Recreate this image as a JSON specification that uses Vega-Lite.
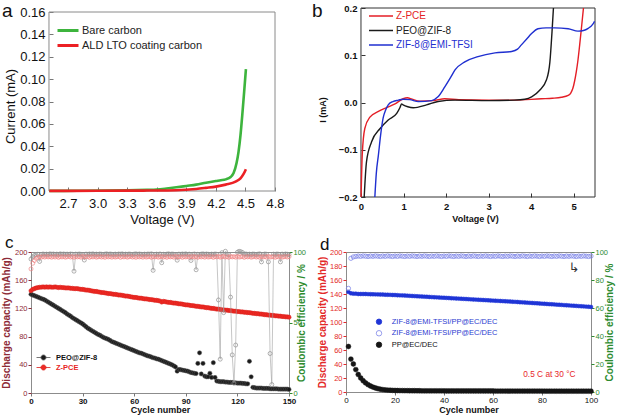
{
"$schema": "https://vega.github.io/schema/vega-lite/v6.json",
"autosize": {"type": "none"},
"padding": {"left": 31, "top": 8, "right": 593, "bottom": 408},
"background": "white",
"columns": 2,
"bounds": "flush",
"spacing": {"row": 55, "column": 57},
"resolve": {"scale": {"color": "independent", "fill": "independent", "stroke": "independent", "size": "independent"}, "legend": {"color": "independent", "fill": "independent", "stroke": "independent", "size": "independent"}},
"config": {
 "font": "Liberation Sans",
 "view": {"stroke": "#8c8c8c", "strokeWidth": 1},
 "axis": {"grid": false, "labelFont": "Liberation Sans", "titleFont": "Liberation Sans", "labelFlush": false, "labelOverlap": false},
 "legend": {"labelFont": "Liberation Sans", "padding": 0},
 "title": {"font": "Liberation Sans"}
},
"concat": [
 {
  "width": 244, "height": 183,
  "view": {"stroke": null},
  "title": {"text": "a", "anchor": "start", "frame": "group", "fontSize": 19, "fontWeight": "normal", "baseline": "alphabetic", "offset": 0, "dx": -29, "dy": 30, "color": "#111"},
  "layer": [
   {
    "data": {"values": [{}]},
    "mark": {"type": "rect", "fill": "transparent", "stroke": "#8a8a8a", "strokeWidth": 1},
    "encoding": {
     "x": {"datum": 2.507, "type": "quantitative", "scale": {"domain": [2.3246, 4.8], "nice": false, "zero": false}, "axis": {"title": "Voltage (V)", "tickCount": 30}},
     "x2": {"datum": 4.8},
     "y": {"datum": 0, "type": "quantitative", "scale": {"domain": [0, 0.16358], "nice": false}, "axis": {"title": "Current (mA)", "tickCount": 30}},
     "y2": {"datum": 0.16}
    }
   },
   {
    "data": {"values": [
     {"s":"Bare carbon","v":2.51,"i":0.0001},{"s":"Bare carbon","v":2.8,"i":0.0002},{"s":"Bare carbon","v":3.1,"i":0.0004},{"s":"Bare carbon","v":3.3,"i":0.0006},{"s":"Bare carbon","v":3.5,"i":0.001},{"s":"Bare carbon","v":3.6,"i":0.0013},{"s":"Bare carbon","v":3.7,"i":0.0022},{"s":"Bare carbon","v":3.8,"i":0.0033},{"s":"Bare carbon","v":3.9,"i":0.0045},{"s":"Bare carbon","v":4.0,"i":0.0057},{"s":"Bare carbon","v":4.1,"i":0.0074},{"s":"Bare carbon","v":4.2,"i":0.0089},{"s":"Bare carbon","v":4.25,"i":0.0096},{"s":"Bare carbon","v":4.3,"i":0.0104},{"s":"Bare carbon","v":4.35,"i":0.0125},{"s":"Bare carbon","v":4.38,"i":0.016},{"s":"Bare carbon","v":4.41,"i":0.025},{"s":"Bare carbon","v":4.43,"i":0.035},{"s":"Bare carbon","v":4.45,"i":0.05},{"s":"Bare carbon","v":4.47,"i":0.07},{"s":"Bare carbon","v":4.49,"i":0.092},{"s":"Bare carbon","v":4.505,"i":0.109},
     {"s":"ALD LTO coating carbon","v":2.51,"i":0.0001},{"s":"ALD LTO coating carbon","v":3.0,"i":0.0002},{"s":"ALD LTO coating carbon","v":3.5,"i":0.0004},{"s":"ALD LTO coating carbon","v":3.8,"i":0.0007},{"s":"ALD LTO coating carbon","v":4.0,"i":0.0018},{"s":"ALD LTO coating carbon","v":4.1,"i":0.0028},{"s":"ALD LTO coating carbon","v":4.2,"i":0.0039},{"s":"ALD LTO coating carbon","v":4.3,"i":0.0057},{"s":"ALD LTO coating carbon","v":4.4,"i":0.0083},{"s":"ALD LTO coating carbon","v":4.45,"i":0.0113},{"s":"ALD LTO coating carbon","v":4.48,"i":0.015},{"s":"ALD LTO coating carbon","v":4.505,"i":0.0195}
    ]},
    "mark": {"type": "line", "strokeWidth": 2.6, "interpolate": "monotone"},
    "encoding": {
     "x": {"field": "v", "type": "quantitative", "scale": {"domain": [2.3246, 4.8], "nice": false, "zero": false},
      "axis": {"values": [2.7, 3.0, 3.3, 3.6, 3.9, 4.2, 4.5, 4.8], "tickCount": 30, "format": ".1f", "labelOverlap": false, "labelFontSize": 13, "labelColor": "#111", "tickSize": -4, "tickColor": "#777", "labelPadding": 10, "domain": false, "title": "Voltage (V)", "titleFontSize": 13, "titleFontWeight": "normal", "titleColor": "#111", "titlePadding": 3, "titleX": 131}},
     "y": {"field": "i", "type": "quantitative", "scale": {"domain": [0, 0.16358], "nice": false},
      "axis": {"values": [0, 0.02, 0.04, 0.06, 0.08, 0.1, 0.12, 0.14, 0.16], "tickCount": 30, "format": ".2f", "labelOverlap": false, "offset": -18, "labelFontSize": 13, "labelColor": "#111", "tickSize": -4, "tickColor": "#777", "labelPadding": 8, "domain": false, "title": "Current (mA)", "titleFontSize": 13, "titleFontWeight": "normal", "titleColor": "#111", "titlePadding": 2, "titleY": 98}},
     "color": {"field": "s", "type": "nominal", "scale": {"domain": ["Bare carbon", "ALD LTO coating carbon"], "range": ["#3DB43D", "#EC2024"]},
      "legend": {"orient": "none", "legendX": 29.5, "legendY": 15, "title": null, "symbolType": "M-1.75,0H1.75", "symbolSize": 144, "symbolStrokeWidth": 3, "labelFontSize": 11, "labelOffset": 6.5, "rowPadding": 1, "padding": 0, "labelColor": "#222"}}
    }
   }
  ]
 },
 {
  "width": 249, "height": 189,
  "view": {"stroke": null},
  "title": {"text": "b", "anchor": "start", "frame": "group", "fontSize": 19, "fontWeight": "normal", "baseline": "alphabetic", "offset": 0, "dx": -34, "dy": 33, "color": "#111"},
  "layer": [
   {
    "data": {"values": [{}]},
    "mark": {"type": "rect", "fill": "transparent", "stroke": "#333", "strokeWidth": 1},
    "encoding": {
     "x": {"datum": 0, "type": "quantitative", "scale": {"domain": [-0.352, 5.5], "nice": false, "zero": false}, "axis": {"title": "Voltage (V)", "tickCount": 30}},
     "x2": {"datum": 5.5},
     "y": {"datum": -0.2, "type": "quantitative", "scale": {"domain": [-0.2, 0.2], "nice": false}, "axis": {"title": "I (mA)", "tickCount": 30}},
     "y2": {"datum": 0.2}
    }
   },
   {
    "data": {"values": [
     {"s":"Z-PCE","v":0.0,"i":-0.21},{"s":"Z-PCE","v":0.03,"i":-0.11},{"s":"Z-PCE","v":0.09,"i":-0.055},{"s":"Z-PCE","v":0.21,"i":-0.031},{"s":"Z-PCE","v":0.41,"i":-0.019},{"s":"Z-PCE","v":0.6,"i":-0.011},{"s":"Z-PCE","v":0.8,"i":-0.003},{"s":"Z-PCE","v":0.99,"i":0.008},{"s":"Z-PCE","v":1.09,"i":0.01},{"s":"Z-PCE","v":1.2,"i":0.007},{"s":"Z-PCE","v":1.38,"i":0.003},{"s":"Z-PCE","v":1.7,"i":0.004},{"s":"Z-PCE","v":1.97,"i":0.008},{"s":"Z-PCE","v":2.3,"i":0.006},{"s":"Z-PCE","v":3.0,"i":0.005},{"s":"Z-PCE","v":3.6,"i":0.005},{"s":"Z-PCE","v":4.24,"i":0.008},{"s":"Z-PCE","v":4.5,"i":0.009},{"s":"Z-PCE","v":4.71,"i":0.011},{"s":"Z-PCE","v":4.87,"i":0.015},{"s":"Z-PCE","v":4.93,"i":0.02},{"s":"Z-PCE","v":4.98,"i":0.03},{"s":"Z-PCE","v":5.02,"i":0.045},{"s":"Z-PCE","v":5.06,"i":0.065},{"s":"Z-PCE","v":5.1,"i":0.09},{"s":"Z-PCE","v":5.14,"i":0.122},{"s":"Z-PCE","v":5.19,"i":0.165},{"s":"Z-PCE","v":5.24,"i":0.21},
     {"s":"PEO@ZIF-8","v":0.07,"i":-0.21},{"s":"PEO@ZIF-8","v":0.13,"i":-0.125},{"s":"PEO@ZIF-8","v":0.25,"i":-0.083},{"s":"PEO@ZIF-8","v":0.45,"i":-0.055},{"s":"PEO@ZIF-8","v":0.64,"i":-0.037},{"s":"PEO@ZIF-8","v":0.84,"i":-0.023},{"s":"PEO@ZIF-8","v":0.92,"i":-0.01},{"s":"PEO@ZIF-8","v":0.955,"i":-0.003},{"s":"PEO@ZIF-8","v":0.99,"i":-0.005},{"s":"PEO@ZIF-8","v":1.1,"i":-0.009},{"s":"PEO@ZIF-8","v":1.23,"i":-0.011},{"s":"PEO@ZIF-8","v":1.54,"i":-0.005},{"s":"PEO@ZIF-8","v":1.81,"i":0.002},{"s":"PEO@ZIF-8","v":2.21,"i":0.005},{"s":"PEO@ZIF-8","v":3.0,"i":0.004},{"s":"PEO@ZIF-8","v":3.6,"i":0.005},{"s":"PEO@ZIF-8","v":3.85,"i":0.007},{"s":"PEO@ZIF-8","v":4.01,"i":0.012},{"s":"PEO@ZIF-8","v":4.2,"i":0.026},{"s":"PEO@ZIF-8","v":4.36,"i":0.048},{"s":"PEO@ZIF-8","v":4.44,"i":0.086},{"s":"PEO@ZIF-8","v":4.49,"i":0.15},{"s":"PEO@ZIF-8","v":4.53,"i":0.21},
     {"s":"ZIF-8@EMI-TFSI","v":0.32,"i":-0.21},{"s":"ZIF-8@EMI-TFSI","v":0.36,"i":-0.15},{"s":"ZIF-8@EMI-TFSI","v":0.41,"i":-0.111},{"s":"ZIF-8@EMI-TFSI","v":0.46,"i":-0.07},{"s":"ZIF-8@EMI-TFSI","v":0.52,"i":-0.033},{"s":"ZIF-8@EMI-TFSI","v":0.58,"i":-0.016},{"s":"ZIF-8@EMI-TFSI","v":0.64,"i":-0.005},{"s":"ZIF-8@EMI-TFSI","v":0.75,"i":0.002},{"s":"ZIF-8@EMI-TFSI","v":0.88,"i":0.005},{"s":"ZIF-8@EMI-TFSI","v":0.99,"i":0.007},{"s":"ZIF-8@EMI-TFSI","v":1.15,"i":0.006},{"s":"ZIF-8@EMI-TFSI","v":1.35,"i":0.002},{"s":"ZIF-8@EMI-TFSI","v":1.66,"i":0.004},{"s":"ZIF-8@EMI-TFSI","v":1.81,"i":0.012},{"s":"ZIF-8@EMI-TFSI","v":1.97,"i":0.033},{"s":"ZIF-8@EMI-TFSI","v":2.1,"i":0.052},{"s":"ZIF-8@EMI-TFSI","v":2.21,"i":0.069},{"s":"ZIF-8@EMI-TFSI","v":2.44,"i":0.086},{"s":"ZIF-8@EMI-TFSI","v":2.75,"i":0.097},{"s":"ZIF-8@EMI-TFSI","v":3.15,"i":0.105},{"s":"ZIF-8@EMI-TFSI","v":3.54,"i":0.108},{"s":"ZIF-8@EMI-TFSI","v":3.68,"i":0.113},{"s":"ZIF-8@EMI-TFSI","v":3.77,"i":0.122},{"s":"ZIF-8@EMI-TFSI","v":3.9,"i":0.135},{"s":"ZIF-8@EMI-TFSI","v":4.01,"i":0.146},{"s":"ZIF-8@EMI-TFSI","v":4.16,"i":0.156},{"s":"ZIF-8@EMI-TFSI","v":4.35,"i":0.158},{"s":"ZIF-8@EMI-TFSI","v":4.55,"i":0.158},{"s":"ZIF-8@EMI-TFSI","v":4.87,"i":0.156},{"s":"ZIF-8@EMI-TFSI","v":5.1,"i":0.151},{"s":"ZIF-8@EMI-TFSI","v":5.25,"i":0.153},{"s":"ZIF-8@EMI-TFSI","v":5.34,"i":0.157},{"s":"ZIF-8@EMI-TFSI","v":5.45,"i":0.166},{"s":"ZIF-8@EMI-TFSI","v":5.49,"i":0.172}
    ]},
    "mark": {"type": "line", "strokeWidth": 1.4, "interpolate": "monotone", "clip": true},
    "encoding": {
     "x": {"field": "v", "type": "quantitative", "scale": {"domain": [-0.352, 5.5], "nice": false, "zero": false},
      "axis": {"values": [0, 1, 2, 3, 4, 5], "tickCount": 30, "format": "d", "labelOverlap": false, "labelFontSize": 9.5, "labelFontWeight": "bold", "labelColor": "#111", "tickSize": -4, "tickColor": "#333", "labelPadding": 8, "domain": false, "title": "Voltage (V)", "titleFontSize": 9, "titleFontWeight": "bold", "titleColor": "#111", "titlePadding": 4, "titleX": 129}},
     "y": {"field": "i", "type": "quantitative", "scale": {"domain": [-0.2, 0.2], "nice": false},
      "axis": {"values": [-0.2, -0.1, 0, 0.1, 0.2], "tickCount": 30, "format": ".1f", "labelOverlap": false, "offset": -15, "labelFontSize": 9.5, "labelFontWeight": "bold", "labelColor": "#111", "tickSize": -4, "tickColor": "#333", "labelPadding": 8, "domain": false, "title": "I (mA)", "titleFontSize": 9, "titleFontWeight": "bold", "titleColor": "#111", "titlePadding": 11, "titleY": 101.5}},
     "color": {"field": "s", "type": "nominal", "scale": {"domain": ["Z-PCE", "PEO@ZIF-8", "ZIF-8@EMI-TFSI"], "range": ["#E41E26", "#1A1A1A", "#1F2FD0"]},
      "legend": {"orient": "none", "legendX": 28, "legendY": 1, "title": null, "symbolType": "M-2,0H2", "symbolSize": 144, "symbolStrokeWidth": 1.5, "labelFontSize": 10, "labelOffset": 8, "rowPadding": 2.5, "padding": 0,
       "labelColor": {"expr": "datum.value == 'Z-PCE' ? '#E41E26' : datum.value == 'ZIF-8@EMI-TFSI' ? '#1F2FD0' : '#222222'"}}}
    }
   }
  ]
 },
 {
  "width": 258, "height": 141,
  "title": {"text": "c", "anchor": "start", "frame": "group", "fontSize": 17, "fontWeight": "normal", "baseline": "alphabetic", "offset": 0, "dx": -26, "dy": 17, "color": "#111"},
  "data": {"values": [
{"n":0,"zp":145,"pz":140,"zc":88,"pc":95},{"n":1,"zp":147,"pz":139,"zc":92,"pc":96.5},{"n":2,"zp":148,"pz":138,"zc":94,"pc":97.5},{"n":3,"zp":149,"pz":137,"zc":95.5,"pc":98},{"n":4,"zp":149.5,"pz":136,"zc":96.2,"pc":98.4},{"n":5,"zp":150,"pz":135,"zc":96.6,"pc":93.3},{"n":6,"zp":150,"pz":134,"zc":96.3,"pc":98.2},{"n":7,"zp":150.5,"pz":133,"zc":96.8,"pc":98.6},{"n":8,"zp":150,"pz":132,"zc":96.4,"pc":98.3},{"n":9,"zp":150.5,"pz":130.5,"zc":96.9,"pc":98.5},
{"n":10,"zp":150,"pz":129,"zc":96.5,"pc":98.2},{"n":11,"zp":150.5,"pz":127.5,"zc":96.7,"pc":98.7},{"n":12,"zp":150,"pz":126,"zc":96.3,"pc":98.4},{"n":13,"zp":150,"pz":124.5,"zc":96.8,"pc":98.6},{"n":14,"zp":150.5,"pz":123,"zc":96.4,"pc":98.3},{"n":15,"zp":150,"pz":121.5,"zc":96.9,"pc":98.5},{"n":16,"zp":149.5,"pz":120,"zc":96.2,"pc":98.2},{"n":17,"zp":150,"pz":118.5,"zc":96.7,"pc":98.7},{"n":18,"zp":149.5,"pz":117,"zc":96.5,"pc":98.4},{"n":19,"zp":149.5,"pz":115.5,"zc":96.8,"pc":98.6},
{"n":20,"zp":149,"pz":114,"zc":96.3,"pc":98.3},{"n":21,"zp":149,"pz":112,"zc":96.6,"pc":98.5},{"n":22,"zp":149,"pz":110.5,"zc":96.9,"pc":98.2},{"n":23,"zp":148.5,"pz":109,"zc":96.4,"pc":98.6},{"n":24,"zp":148.5,"pz":107,"zc":96.7,"pc":98.4},{"n":25,"zp":148,"pz":105.5,"zc":96.2,"pc":86.4},{"n":26,"zp":148,"pz":104,"zc":96.8,"pc":98.5},{"n":27,"zp":148,"pz":102.5,"zc":96.5,"pc":98.3},{"n":28,"zp":147.5,"pz":101,"zc":96.7,"pc":98.6},{"n":29,"zp":147,"pz":99.5,"zc":96.3,"pc":98.4},
{"n":30,"zp":147,"pz":98,"zc":96.9,"pc":98.2},{"n":31,"zp":146.5,"pz":96,"zc":96.4,"pc":94.3},{"n":32,"zp":146,"pz":94,"zc":96.6,"pc":98.5},{"n":33,"zp":146,"pz":92,"zc":96.8,"pc":98.3},{"n":34,"zp":145.5,"pz":90.5,"zc":96.2,"pc":98.6},{"n":35,"zp":145,"pz":89,"zc":96.7,"pc":98.4},{"n":36,"zp":144.5,"pz":87.5,"zc":96.5,"pc":98.7},{"n":37,"zp":144,"pz":86,"zc":96.9,"pc":98.2},{"n":38,"zp":144,"pz":84.5,"zc":96.3,"pc":98.5},{"n":39,"zp":143.5,"pz":83,"zc":96.6,"pc":98.3},
{"n":40,"zp":143,"pz":82,"zc":96.8,"pc":98.6},{"n":41,"zp":142.5,"pz":80.5,"zc":96.4,"pc":98.4},{"n":42,"zp":142.5,"pz":79,"zc":96.7,"pc":98.2},{"n":43,"zp":142,"pz":78,"zc":96.2,"pc":98.5},{"n":44,"zp":141.5,"pz":77,"zc":96.9,"pc":98.7},{"n":45,"zp":141,"pz":76,"zc":96.5,"pc":98.3},{"n":46,"zp":141,"pz":74.5,"zc":96.7,"pc":98.6},{"n":47,"zp":140.5,"pz":73,"zc":96.3,"pc":98.4},{"n":48,"zp":140,"pz":72,"zc":96.8,"pc":98.2},{"n":49,"zp":140,"pz":71,"zc":96.4,"pc":98.5},
{"n":50,"zp":139.5,"pz":70,"zc":96.6,"pc":98.3},{"n":51,"zp":139,"pz":69,"zc":96.9,"pc":98.6},{"n":52,"zp":139,"pz":68,"zc":96.2,"pc":98.4},{"n":53,"zp":138.5,"pz":67,"zc":96.7,"pc":98.7},{"n":54,"zp":138,"pz":66,"zc":96.5,"pc":98.2},{"n":55,"zp":137.5,"pz":65,"zc":96.8,"pc":98.5},{"n":56,"zp":137.5,"pz":64,"zc":96.3,"pc":98.3},{"n":57,"zp":137,"pz":63,"zc":96.6,"pc":98.6},{"n":58,"zp":136.5,"pz":62,"zc":96.9,"pc":98.4},{"n":59,"zp":136,"pz":61,"zc":96.4,"pc":98.2},
{"n":60,"zp":135.5,"pz":60,"zc":96.7,"pc":98.5},{"n":61,"zp":135.5,"pz":59,"zc":96.2,"pc":98.7},{"n":62,"zp":135,"pz":58,"zc":96.8,"pc":98.3},{"n":63,"zp":134.5,"pz":57,"zc":96.5,"pc":98.6},{"n":64,"zp":134.5,"pz":56.5,"zc":96.7,"pc":98.4},{"n":65,"zp":134,"pz":55.5,"zc":96.3,"pc":98.2},{"n":66,"zp":133.5,"pz":54.5,"zc":96.9,"pc":98.5},{"n":67,"zp":133.5,"pz":53.5,"zc":96.4,"pc":98.3},{"n":68,"zp":133,"pz":52.5,"zc":96.6,"pc":98.6},{"n":69,"zp":132.5,"pz":52,"zc":96.8,"pc":98.4},
{"n":70,"zp":132.5,"pz":51,"zc":96.2,"pc":98.7},{"n":71,"zp":132,"pz":50,"zc":96.7,"pc":87},{"n":72,"zp":131.5,"pz":49.5,"zc":96.5,"pc":98.2},{"n":73,"zp":131.5,"pz":48.5,"zc":96.8,"pc":98.5},{"n":74,"zp":131,"pz":48,"zc":96.3,"pc":98.3},{"n":75,"zp":130.5,"pz":47,"zc":96.6,"pc":98.6},{"n":76,"zp":129,"pz":46,"zc":96.9,"pc":92.4},{"n":77,"zp":130,"pz":45,"zc":96.4,"pc":98.4},{"n":78,"zp":129.5,"pz":44,"zc":96.7,"pc":98.2},{"n":79,"zp":129,"pz":43,"zc":96.2,"pc":98.5},
{"n":80,"zp":128.5,"pz":42,"zc":96.8,"pc":98.7},{"n":81,"zp":128.5,"pz":41,"zc":96.5,"pc":98.3},{"n":82,"zp":128,"pz":40,"zc":96.7,"pc":98.6},{"n":83,"zp":127.5,"pz":38.5,"zc":96.3,"pc":98.4},{"n":84,"zp":127.5,"pz":37,"zc":96.9,"pc":98.2},{"n":85,"zp":127,"pz":31,"zc":96.4,"pc":94.2},{"n":86,"zp":126.5,"pz":33.5,"zc":96.6,"pc":98.5},{"n":87,"zp":126.5,"pz":33,"zc":96.8,"pc":98.3},{"n":88,"zp":126,"pz":32.5,"zc":96.2,"pc":98.6},{"n":89,"zp":125.5,"pz":32,"zc":96.7,"pc":98.4},
{"n":90,"zp":125,"pz":31.5,"zc":96.5,"pc":98.7},{"n":91,"zp":125,"pz":31,"zc":96.8,"pc":98.2},{"n":92,"zp":124.5,"pz":30,"zc":96.3,"pc":98.5},{"n":93,"zp":124,"pz":29,"zc":96.6,"pc":94},{"n":94,"zp":124,"pz":28.5,"zc":96.9,"pc":98.3},{"n":95,"zp":123.5,"pz":28,"zc":96.4,"pc":98.6},{"n":96,"zp":123,"pz":27.5,"zc":96.7,"pc":87.4},{"n":97,"zp":123,"pz":42,"zc":96.2,"pc":98.4},{"n":98,"zp":122.5,"pz":57,"zc":96.8,"pc":98.2},{"n":99,"zp":122,"pz":27,"zc":96.5,"pc":98.5},
{"n":100,"zp":122,"pz":42,"zc":96.7,"pc":98.7},{"n":101,"zp":121.5,"pz":24,"zc":96.3,"pc":98.3},{"n":102,"zp":121,"pz":23,"zc":96.9,"pc":98.6},{"n":103,"zp":121,"pz":23,"zc":96.4,"pc":98.4},{"n":104,"zp":120.5,"pz":28,"zc":96.6,"pc":98.2},{"n":105,"zp":120,"pz":22,"zc":96.8,"pc":98.5},{"n":106,"zp":120,"pz":43,"zc":96.2,"pc":98.3},{"n":107,"zp":119.5,"pz":22,"zc":96.7,"pc":98.6},{"n":108,"zp":119,"pz":17,"zc":96.5,"pc":98.4},{"n":109,"zp":119,"pz":16.5,"zc":96.8,"pc":66},
{"n":110,"zp":118.5,"pz":16,"zc":96.3,"pc":24},{"n":111,"zp":118,"pz":16,"zc":96.6,"pc":99.5},{"n":112,"zp":118,"pz":16,"zc":96.9,"pc":57},{"n":113,"zp":117.5,"pz":15.5,"zc":96.4,"pc":100.5},{"n":114,"zp":117.5,"pz":15.5,"zc":96.7,"pc":98.5},{"n":115,"zp":117,"pz":15,"zc":96.2,"pc":98.2},{"n":116,"zp":117,"pz":15,"zc":96.8,"pc":68},{"n":117,"zp":116.5,"pz":15,"zc":96.5,"pc":27},{"n":118,"zp":116,"pz":14.5,"zc":96.7,"pc":7},{"n":119,"zp":116,"pz":14.5,"zc":96.3,"pc":34},
{"n":120,"zp":115.5,"pz":14,"zc":96.9,"pc":99.8},{"n":121,"zp":115.5,"pz":14,"zc":96.4,"pc":100.5},{"n":122,"zp":115,"pz":14,"zc":96.6,"pc":100.2},{"n":123,"zp":115,"pz":13.5,"zc":96.8,"pc":99.6},{"n":124,"zp":114.5,"pz":13.5,"zc":96.2,"pc":98.4},{"n":125,"zp":114.5,"pz":13,"zc":96.7,"pc":98.6},{"n":126,"zp":114,"pz":13,"zc":96.5,"pc":98.3},{"n":127,"zp":114,"pz":45,"zc":96.8,"pc":98.5},{"n":128,"zp":113.5,"pz":23,"zc":96.3,"pc":98.2},{"n":129,"zp":113,"pz":8,"zc":96.6,"pc":98.6},
{"n":130,"zp":113,"pz":7.5,"zc":96.9,"pc":98.4},{"n":131,"zp":112.5,"pz":7,"zc":96.4,"pc":98.2},{"n":132,"zp":112.5,"pz":7,"zc":96.7,"pc":98.5},{"n":133,"zp":112,"pz":7,"zc":96.2,"pc":98.7},{"n":134,"zp":112,"pz":7,"zc":96.8,"pc":93},{"n":135,"zp":111.5,"pz":6.5,"zc":96.5,"pc":98.3},{"n":136,"zp":111,"pz":6.5,"zc":96.7,"pc":98.6},{"n":137,"zp":111,"pz":6.5,"zc":96.3,"pc":98.4},{"n":138,"zp":110.5,"pz":6.5,"zc":96.9,"pc":93},{"n":139,"zp":110.5,"pz":6,"zc":96.4,"pc":28},
{"n":140,"zp":110,"pz":6,"zc":96.6,"pc":6},{"n":141,"zp":110,"pz":6,"zc":96.8,"pc":98.5},{"n":142,"zp":109.5,"pz":6,"zc":96.2,"pc":98.3},{"n":143,"zp":109.5,"pz":6,"zc":96.7,"pc":98.6},{"n":144,"zp":109,"pz":5.5,"zc":96.5,"pc":98.4},{"n":145,"zp":109,"pz":5.5,"zc":96.8,"pc":93},{"n":146,"zp":108.5,"pz":5.5,"zc":96.3,"pc":98.5},{"n":147,"zp":108.5,"pz":5.5,"zc":96.6,"pc":98.3},{"n":148,"zp":108,"pz":5.5,"zc":96.9,"pc":98.6},{"n":149,"zp":108,"pz":5.5,"zc":96.4,"pc":98.4},
{"n":150,"zp":107.5,"pz":5,"zc":96.7,"pc":98.2}
  ]},
  "layer": [
   {
    "transform": [{"fold": ["pz", "zp"], "as": ["k", "cap"]}],
    "mark": {"type": "point", "filled": true, "size": 18, "opacity": 1, "strokeWidth": 0.5},
    "encoding": {
     "x": {"field": "n", "type": "quantitative", "scale": {"domain": [0, 150], "nice": false},
      "axis": {"values": [0, 30, 60, 90, 120, 150], "tickCount": 30, "labelOverlap": false, "labelFontSize": 8, "labelFontWeight": "bold", "labelColor": "#111", "tickSize": 3, "tickColor": "#777", "labelPadding": 1, "domain": false, "title": "Cycle number", "titleFontSize": 9, "titleFontWeight": "bold", "titleColor": "#111", "titlePadding": 0}},
     "y": {"field": "cap", "type": "quantitative", "scale": {"domain": [0, 200], "nice": false},
      "axis": {"orient": "left", "values": [0, 40, 80, 120, 160, 200], "tickCount": 30, "labelOverlap": false, "labelFontSize": 7.5, "labelColor": "#8E2B37", "tickColor": "#8E2B37", "tickSize": 3, "labelPadding": 1, "domain": false, "title": "Discharge capacity (mAh/g)", "titleColor": "#8E2B37", "titleFontSize": 10, "titleFontWeight": "bold", "titlePadding": 3}},
     "fill": {"field": "k", "type": "nominal", "scale": {"domain": ["pz", "zp"], "range": ["#1a1a1a", "#EE2A24"]},
      "legend": {"orient": "none", "legendX": 7, "legendY": 100, "title": null, "symbolType": "M-1.4,0H-0.5M0.5,0H1.4M0.5,0A0.5,0.5,0,1,1,-0.5,0A0.5,0.5,0,1,1,0.5,0Z", "symbolSize": 100, "symbolStrokeWidth": 0.8, "labelFontSize": 7.5, "labelFontWeight": "bold", "labelOffset": 7, "rowPadding": -1, "padding": 0,
       "labelExpr": "datum.label == 'pz' ? 'PEO@ZIF-8' : 'Z-PCE'",
       "labelColor": {"expr": "datum.value == 'zp' ? '#E8261F' : '#111111'"}}},
     "stroke": {"field": "k", "type": "nominal", "scale": {"domain": ["pz", "zp"], "range": ["#555555", "#D81E1A"]},
      "legend": {"orient": "none", "legendX": 7, "legendY": 100, "title": null, "symbolType": "M-1.4,0H-0.5M0.5,0H1.4M0.5,0A0.5,0.5,0,1,1,-0.5,0A0.5,0.5,0,1,1,0.5,0Z", "symbolSize": 100, "symbolStrokeWidth": 0.8, "labelFontSize": 7.5, "labelFontWeight": "bold", "labelOffset": 7, "rowPadding": -1, "padding": 0,
       "labelExpr": "datum.label == 'pz' ? 'PEO@ZIF-8' : 'Z-PCE'",
       "labelColor": {"expr": "datum.value == 'zp' ? '#E8261F' : '#111111'"}}}
    }
   },
   {
    "layer": [
     {
      "mark": {"type": "line", "color": "#a0a0a0", "strokeWidth": 0.6},
      "encoding": {
       "x": {"field": "n", "type": "quantitative", "scale": {"domain": [0, 150], "nice": false}, "axis": {"title": "Cycle number", "tickCount": 30}},
       "y": {"field": "pc", "type": "quantitative", "scale": {"domain": [0, 100], "nice": false},
        "axis": {"orient": "right", "values": [0, 50, 100], "tickCount": 30, "labelOverlap": false, "labelFontSize": 7.5, "labelColor": "#2E8B2E", "tickColor": "#2E8B2E", "tickSize": 3, "labelPadding": 1, "domain": false, "title": "Coulombic efficiency / %", "titleColor": "#2E8B2E", "titleFontSize": 10, "titleFontWeight": "bold", "titlePadding": 1, "titleAngle": 270}}
      }
     },
     {
      "transform": [{"fold": ["pc", "zc"], "as": ["k2", "ce"]}],
      "mark": {"type": "point", "filled": false, "size": 16, "strokeWidth": 0.7, "opacity": 1},
      "encoding": {
       "x": {"field": "n", "type": "quantitative", "scale": {"domain": [0, 150], "nice": false}, "axis": {"title": "Cycle number", "tickCount": 30}},
       "y": {"field": "ce", "type": "quantitative", "scale": {"domain": [0, 100], "nice": false},
        "axis": {"orient": "right", "values": [0, 50, 100], "tickCount": 30, "labelOverlap": false, "labelFontSize": 7.5, "labelColor": "#2E8B2E", "tickColor": "#2E8B2E", "tickSize": 3, "labelPadding": 1, "domain": false, "title": "Coulombic efficiency / %", "titleColor": "#2E8B2E", "titleFontSize": 10, "titleFontWeight": "bold", "titlePadding": 1, "titleAngle": 270}},
       "color": {"field": "k2", "type": "nominal", "scale": {"domain": ["pc", "zc"], "range": ["#8f8f8f", "#F08484"]}, "legend": null}
      }
     }
    ]
   }
  ],
  "resolve": {"scale": {"y": "independent"}}
 },
 {
  "width": 245, "height": 140,
  "title": {"text": "d", "anchor": "start", "frame": "group", "fontSize": 17, "fontWeight": "normal", "baseline": "alphabetic", "offset": 0, "dx": -26, "dy": 18.75, "color": "#111"},
  "data": {"values": [
{"n":1,"zd":143,"zc":74,"pp":65},{"n":2,"zd":141,"zc":95.5,"pp":47},{"n":3,"zd":140.5,"zc":96.5,"pp":40},{"n":4,"zd":140.5,"zc":96.8,"pp":32},{"n":5,"zd":140,"zc":97.1,"pp":25},{"n":6,"zd":140,"zc":96.9,"pp":20},{"n":7,"zd":140,"zc":97.2,"pp":16},{"n":8,"zd":140,"zc":97,"pp":13},{"n":9,"zd":139.8,"zc":96.8,"pp":10.5},{"n":10,"zd":139.7,"zc":97.1,"pp":8.5},
{"n":11,"zd":139.6,"zc":96.9,"pp":7},{"n":12,"zd":139.5,"zc":97.2,"pp":5.8},{"n":13,"zd":139.4,"zc":97,"pp":4.8},{"n":14,"zd":139.3,"zc":96.8,"pp":4},{"n":15,"zd":139.2,"zc":97.1,"pp":3.4},{"n":16,"zd":139,"zc":96.9,"pp":3},{"n":17,"zd":138.9,"zc":97.2,"pp":2.7},{"n":18,"zd":138.8,"zc":97,"pp":2.5},{"n":19,"zd":138.6,"zc":96.8,"pp":2.3},{"n":20,"zd":138.5,"zc":97.1,"pp":2.2},
{"n":21,"zd":138.3,"zc":96.9,"pp":2.1},{"n":22,"zd":138.1,"zc":97.2,"pp":2},{"n":23,"zd":138,"zc":97,"pp":2},{"n":24,"zd":137.8,"zc":96.8,"pp":1.9},{"n":25,"zd":137.6,"zc":97.1,"pp":1.9},{"n":26,"zd":137.4,"zc":96.9,"pp":1.8},{"n":27,"zd":137.2,"zc":97.2,"pp":1.8},{"n":28,"zd":137,"zc":97,"pp":1.8},{"n":29,"zd":136.8,"zc":96.8,"pp":1.7},{"n":30,"zd":136.6,"zc":97.1,"pp":1.7},
{"n":31,"zd":136.4,"zc":96.9,"pp":1.6},{"n":32,"zd":136.2,"zc":97.2,"pp":1.6},{"n":33,"zd":136,"zc":97,"pp":1.6},{"n":34,"zd":135.8,"zc":96.8,"pp":1.6},{"n":35,"zd":135.6,"zc":97.1,"pp":1.6},{"n":36,"zd":135.4,"zc":96.9,"pp":1.6},{"n":37,"zd":135.2,"zc":97.2,"pp":1.6},{"n":38,"zd":135,"zc":97,"pp":1.6},{"n":39,"zd":134.8,"zc":96.8,"pp":1.6},{"n":40,"zd":134.6,"zc":97.1,"pp":1.6},
{"n":41,"zd":134.4,"zc":96.9,"pp":1.5},{"n":42,"zd":134.2,"zc":97.2,"pp":1.5},{"n":43,"zd":134,"zc":97,"pp":1.5},{"n":44,"zd":133.8,"zc":96.8,"pp":1.5},{"n":45,"zd":133.6,"zc":97.1,"pp":1.5},{"n":46,"zd":133.4,"zc":96.9,"pp":1.5},{"n":47,"zd":133.2,"zc":97.2,"pp":1.5},{"n":48,"zd":133,"zc":97,"pp":1.5},{"n":49,"zd":132.8,"zc":96.8,"pp":1.5},{"n":50,"zd":132.6,"zc":97.1,"pp":1.5},
{"n":51,"zd":132.4,"zc":96.9,"pp":1.5},{"n":52,"zd":132.2,"zc":97.2,"pp":1.5},{"n":53,"zd":132,"zc":97,"pp":1.5},{"n":54,"zd":131.8,"zc":96.8,"pp":1.5},{"n":55,"zd":131.6,"zc":97.1,"pp":1.5},{"n":56,"zd":131.4,"zc":96.9,"pp":1.5},{"n":57,"zd":131.2,"zc":97.2,"pp":1.5},{"n":58,"zd":131,"zc":97,"pp":1.5},{"n":59,"zd":130.8,"zc":96.8,"pp":1.5},{"n":60,"zd":130.6,"zc":97.1,"pp":1.5},
{"n":61,"zd":130.4,"zc":96.9,"pp":1.3},{"n":62,"zd":130.2,"zc":97.2,"pp":1.3},{"n":63,"zd":130,"zc":97,"pp":1.3},{"n":64,"zd":129.8,"zc":96.8,"pp":1.3},{"n":65,"zd":129.6,"zc":97.1,"pp":1.3},{"n":66,"zd":129.4,"zc":96.9,"pp":1.3},{"n":67,"zd":129.2,"zc":97.2,"pp":1.3},{"n":68,"zd":129,"zc":97,"pp":1.3},{"n":69,"zd":128.8,"zc":96.8,"pp":1.3},{"n":70,"zd":128.6,"zc":97.1,"pp":1.3},
{"n":71,"zd":128.3,"zc":96.9,"pp":1.3},{"n":72,"zd":128.1,"zc":97.2,"pp":1.3},{"n":73,"zd":127.9,"zc":97,"pp":1.3},{"n":74,"zd":127.6,"zc":96.8,"pp":1.3},{"n":75,"zd":127.4,"zc":97.1,"pp":1.3},{"n":76,"zd":127.2,"zc":96.9,"pp":1.3},{"n":77,"zd":126.9,"zc":97.2,"pp":1.3},{"n":78,"zd":126.7,"zc":97,"pp":1.3},{"n":79,"zd":126.5,"zc":96.8,"pp":1.3},{"n":80,"zd":126.2,"zc":97.1,"pp":1.3},
{"n":81,"zd":126,"zc":96.9,"pp":1.2},{"n":82,"zd":125.8,"zc":97.2,"pp":1.2},{"n":83,"zd":125.5,"zc":97,"pp":1.2},{"n":84,"zd":125.3,"zc":96.8,"pp":1.2},{"n":85,"zd":125.1,"zc":97.1,"pp":1.2},{"n":86,"zd":124.8,"zc":96.9,"pp":1.2},{"n":87,"zd":124.6,"zc":97.2,"pp":1.2},{"n":88,"zd":124.4,"zc":97,"pp":1.2},{"n":89,"zd":124.1,"zc":96.8,"pp":1.2},{"n":90,"zd":123.9,"zc":97.1,"pp":1.2},
{"n":91,"zd":123.7,"zc":96.9,"pp":1.2},{"n":92,"zd":123.4,"zc":97.2,"pp":1.2},{"n":93,"zd":123.2,"zc":97,"pp":1.2},{"n":94,"zd":123,"zc":96.8,"pp":1.2},{"n":95,"zd":122.7,"zc":97.1,"pp":1.2},{"n":96,"zd":122.5,"zc":96.9,"pp":1.2},{"n":97,"zd":122.3,"zc":97.2,"pp":1.2},{"n":98,"zd":122,"zc":97,"pp":1.2},{"n":99,"zd":121.8,"zc":96.8,"pp":1.2},{"n":100,"zd":121.5,"zc":97.1,"pp":1.2}
  ]},
  "layer": [
   {
    "layer": [
     {
      "transform": [{"fold": ["zd", "pp"], "as": ["k", "cap"]}],
      "mark": {"type": "point", "filled": true, "opacity": 1, "strokeWidth": 0.5},
      "encoding": {
       "x": {"field": "n", "type": "quantitative", "scale": {"domain": [0, 100], "nice": false},
        "axis": {"values": [0, 20, 40, 60, 80, 100], "tickCount": 30, "labelOverlap": false, "labelFontSize": 8, "labelColor": "#111", "tickSize": 3, "tickColor": "#777", "labelPadding": 1, "domain": false, "title": "Cycle number", "titleFontSize": 9, "titleFontWeight": "bold", "titleColor": "#111", "titlePadding": 1}},
       "y": {"field": "cap", "type": "quantitative", "scale": {"domain": [0, 200], "nice": false},
        "axis": {"orient": "left", "values": [0, 20, 40, 60, 80, 100, 120, 140, 160, 180, 200], "tickCount": 30, "labelOverlap": false, "labelFontSize": 7.5, "labelColor": "#E32A2A", "tickColor": "#E32A2A", "tickSize": 3, "labelPadding": 1, "domain": false, "title": "Discharge capacity (mAh/g)", "titleColor": "#E32A2A", "titleFontSize": 10, "titleFontWeight": "bold", "titlePadding": 2}},
       "size": {"field": "k", "type": "nominal", "scale": {"domain": ["zd", "pp"], "range": [15, 24]}, "legend": null},
       "fill": {"field": "k", "type": "nominal", "scale": {"domain": ["zd", "zce", "pp"], "range": ["#1F35D6", "transparent", "#151515"]},
        "legend": {"orient": "none", "legendX": 29.25, "legendY": 66, "title": null, "symbolType": "circle", "symbolSize": 30, "symbolStrokeWidth": 0.8, "labelFontSize": 7.5, "labelOffset": 9, "rowPadding": 1.5, "padding": 0,
         "labelExpr": "datum.label == 'pp' ? 'PP@EC/DEC' : 'ZIF-8@EMI-TFSI/PP@EC/DEC'",
         "labelColor": {"expr": "datum.value == 'pp' ? '#111111' : '#2B3BD0'"}}},
       "stroke": {"field": "k", "type": "nominal", "scale": {"domain": ["zd", "zce", "pp"], "range": ["#1F35D6", "#7F87E8", "#151515"]},
        "legend": {"orient": "none", "legendX": 29.25, "legendY": 66, "title": null, "symbolType": "circle", "symbolSize": 30, "symbolStrokeWidth": 0.8, "labelFontSize": 7.5, "labelOffset": 9, "rowPadding": 1.5, "padding": 0,
         "labelExpr": "datum.label == 'pp' ? 'PP@EC/DEC' : 'ZIF-8@EMI-TFSI/PP@EC/DEC'",
         "labelColor": {"expr": "datum.value == 'pp' ? '#111111' : '#2B3BD0'"}}}
      }
     },
     {
      "data": {"values": [{}]},
      "mark": {"type": "text", "text": "0.5 C at 30 °C", "color": "#E8262A", "fontSize": 8.3, "align": "center", "baseline": "middle"},
      "encoding": {"x": {"datum": 83, "type": "quantitative"}, "y": {"datum": 24, "type": "quantitative"}}
     },
     {
      "data": {"values": [{}]},
      "mark": {"type": "text", "text": "↳", "font": "DejaVu Sans", "fontSize": 13, "color": "#333", "align": "center", "baseline": "middle"},
      "encoding": {"x": {"datum": 93, "type": "quantitative"}, "y": {"datum": 177, "type": "quantitative"}}
     }
    ]
   },
   {
    "mark": {"type": "point", "filled": true, "size": 18, "strokeWidth": 0.8, "opacity": 1},
    "encoding": {
     "x": {"field": "n", "type": "quantitative", "scale": {"domain": [0, 100], "nice": false}, "axis": {"title": "Cycle number", "tickCount": 30}},
     "y": {"field": "zc", "type": "quantitative", "scale": {"domain": [0, 100], "nice": false},
      "axis": {"orient": "right", "values": [0, 20, 40, 60, 80, 100], "tickCount": 30, "labelOverlap": false, "labelFontSize": 7.5, "labelColor": "#2E8B30", "tickColor": "#2E8B30", "tickSize": 3, "labelPadding": 1, "domain": false, "title": "Coulombic efficiency / %", "titleColor": "#2E8B30", "titleFontSize": 10, "titleFontWeight": "bold", "titlePadding": 7, "titleAngle": 270}},
     "fill": {"datum": "zce", "type": "nominal"},
     "stroke": {"datum": "zce", "type": "nominal"}
    }
   }
  ],
  "resolve": {"scale": {"y": "independent"}}
 }
]
}
